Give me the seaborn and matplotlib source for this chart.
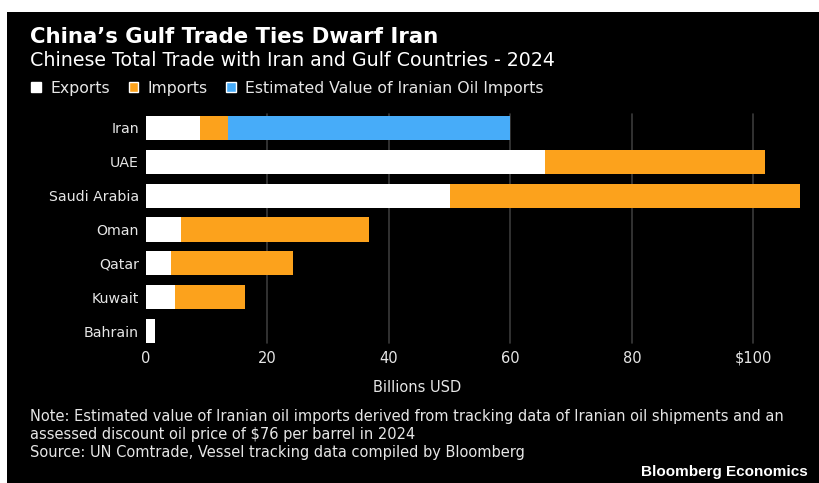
import matplotlib
matplotlib.use("Agg")
import matplotlib.pyplot as plt
import seaborn as sns
import pandas as pd
import numpy as np
from matplotlib.patches import Patch, Rectangle
from matplotlib import font_manager

countries = ["Iran", "UAE", "Saudi Arabia", "Oman", "Qatar", "Kuwait", "Bahrain"]
exports = [8.9, 65.7, 50.1, 5.8, 4.1, 4.8, 1.4]
imports = [4.6, 36.3, 57.6, 30.9, 20.1, 11.5, 0.1]
iran_oil = [46.5, 0, 0, 0, 0, 0, 0]
xticks = [0, 20, 40, 60, 80, 100]
xticklabels = ["0", "20", "40", "60", "80", "$100"]

WHITE = "#ffffff"
ORANGE = "#fca21c"
BLUE = "#47acf9"
GRID = "#3a3a3a"
TXT = "#e6e6e6"

names = {f.name for f in font_manager.fontManager.ttflist}
narrow = "Liberation Sans Narrow" if "Liberation Sans Narrow" in names else "DejaVu Sans Condensed" if "DejaVu Sans Condensed" in names else "DejaVu Sans"

sns.set_theme(style="dark")
plt.rcParams["font.family"] = [narrow, "DejaVu Sans"]

df = pd.DataFrame({"country": countries, "exports": exports,
                   "imports": imports, "oil": iran_oil})
df["c1"] = df["exports"]
df["c2"] = df["exports"] + df["imports"]
df["c3"] = df["c2"] + df["oil"]

W, H = 820, 483
fig = plt.figure(figsize=(8.2, 4.83), dpi=100)
fig.patch.set_facecolor("white")
fig.add_artist(Rectangle((7 / W, 0), 1, (H - 12) / H, transform=fig.transFigure,
                         facecolor="black", edgecolor="none", zorder=0))

left, right, top, bottom = 146, 808, 111, 348
ax = fig.add_axes([left / W, 1 - bottom / H, (right - left) / W, (bottom - top) / H])
ax.set_facecolor("black")

sns.barplot(data=df, x="c3", y="country", color=BLUE, orient="h", width=0.71,
            saturation=1, ax=ax, zorder=3, linewidth=0)
sns.barplot(data=df, x="c2", y="country", color=ORANGE, orient="h", width=0.71,
            saturation=1, ax=ax, zorder=4, linewidth=0)
sns.barplot(data=df, x="c1", y="country", color=WHITE, orient="h", width=0.71,
            saturation=1, ax=ax, zorder=5, linewidth=0)

ax.set_xlim(0, 109)
ax.set_ylim(6.5, -0.5)
ax.set_xticks(xticks)
ax.set_xticklabels(xticklabels)
ax.grid(False)
hgt = bottom - top
for x in xticks[1:]:
    ax.axvline(x, ymin=(bottom - 343) / hgt, ymax=(bottom - 114) / hgt,
               color=GRID, lw=1.2, zorder=1)
for s in ax.spines.values():
    s.set_visible(False)
ax.tick_params(axis="both", length=0, colors=TXT, labelsize=10.5)
ax.tick_params(axis="y", labelsize=10.2, pad=5)
ax.tick_params(axis="x", pad=2)
ax.set_xlabel("")
ax.set_ylabel("")

fig.text(30 / W, 1 - 37 / H, "China’s Gulf Trade Ties Dwarf Iran", color="white",
         fontsize=15.3, fontweight="bold", family=["DejaVu Sans"], va="center", ha="left")
fig.text(30 / W, 1 - 60 / H, "Chinese Total Trade with Iran and Gulf Countries - 2024",
         color="white", fontsize=13.7, va="center", ha="left")

handles = [Patch(facecolor=WHITE, label="Exports"),
           Patch(facecolor=ORANGE, label="Imports"),
           Patch(facecolor=BLUE, label="Estimated Value of Iranian Oil Imports")]
leg = fig.legend(handles=handles, loc="center left", bbox_to_anchor=(25 / W, 1 - 88 / H),
                 ncol=3, frameon=False, fontsize=11.3, handlelength=0.6, handleheight=0.6,
                 handletextpad=0.6, columnspacing=1.2, borderaxespad=0)
for t in leg.get_texts():
    t.set_color(TXT)

fig.text(417 / W, 1 - 387 / H, "Billions USD", color=TXT, fontsize=10.5, ha="center", va="center")
fig.text(30 / W, 1 - 416 / H,
         "Note: Estimated value of Iranian oil imports derived from tracking data of Iranian oil shipments and an",
         color=TXT, fontsize=10.5, ha="left", va="center")
fig.text(30 / W, 1 - 434 / H, "assessed discount oil price of $76 per barrel in 2024",
         color=TXT, fontsize=10.5, ha="left", va="center")
fig.text(30 / W, 1 - 453 / H, "Source: UN Comtrade, Vessel tracking data compiled by Bloomberg",
         color=TXT, fontsize=10.5, ha="left", va="center")
fig.text(808 / W, 1 - 472 / H, "Bloomberg Economics", color="white", fontsize=11,
         fontweight="bold", family=["Liberation Sans", "DejaVu Sans"], ha="right", va="center")

fig.savefig("out.png", dpi=100, facecolor=fig.get_facecolor())
